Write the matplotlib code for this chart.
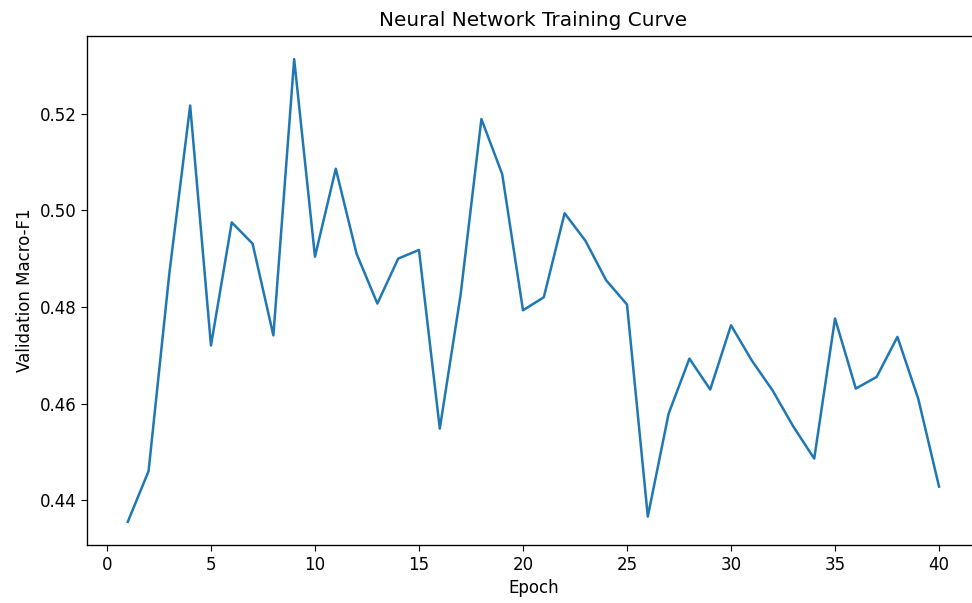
import numpy as np
import matplotlib
matplotlib.use("Agg")
import matplotlib.pyplot as plt

epochs = np.arange(1, 41)
macro_f1 = [0.4355, 0.4460, 0.4870, 0.5217, 0.4720, 0.4975, 0.4931, 0.4741, 0.5313, 0.4904,
            0.5086, 0.4910, 0.4807, 0.4900, 0.4918, 0.4548, 0.4825, 0.5189, 0.5075, 0.4793,
            0.4820, 0.4994, 0.4937, 0.4855, 0.4805, 0.4366, 0.4579, 0.4693, 0.4629, 0.4762,
            0.4689, 0.4627, 0.4552, 0.4486, 0.4776, 0.4631, 0.4655, 0.4738, 0.4610, 0.4428]

s = 1.2  # reference looks rendered at ~120 dpi
plt.rcParams.update({
    "font.size": 10 * s,
    "axes.titlesize": 12 * s,
    "axes.labelsize": 10 * s,
    "xtick.labelsize": 10 * s,
    "ytick.labelsize": 10 * s,
    "xtick.major.size": 3.5 * s,
    "ytick.major.size": 3.5 * s,
    "axes.linewidth": 0.8 * s,
    "axes.titlepad": 6 * s,
})

fig = plt.figure(figsize=(9.72, 6.03), dpi=100)
# axes runs slightly past the right edge in the reference
ax = fig.add_axes([87.2 / 972, 58 / 603, 892.4 / 972, 509 / 603])
ax.plot(epochs, macro_f1, color="#1f77b4", linewidth=1.5 * s)
ax.set_title("Neural Network Training Curve")
ax.set_xlabel("Epoch")
ax.set_ylabel("Validation Macro-F1")
ax.set_xticks([0, 5, 10, 15, 20, 25, 30, 35, 40])
ax.set_yticks([0.44, 0.46, 0.48, 0.50, 0.52])
fig.savefig("out.png", dpi=100)
